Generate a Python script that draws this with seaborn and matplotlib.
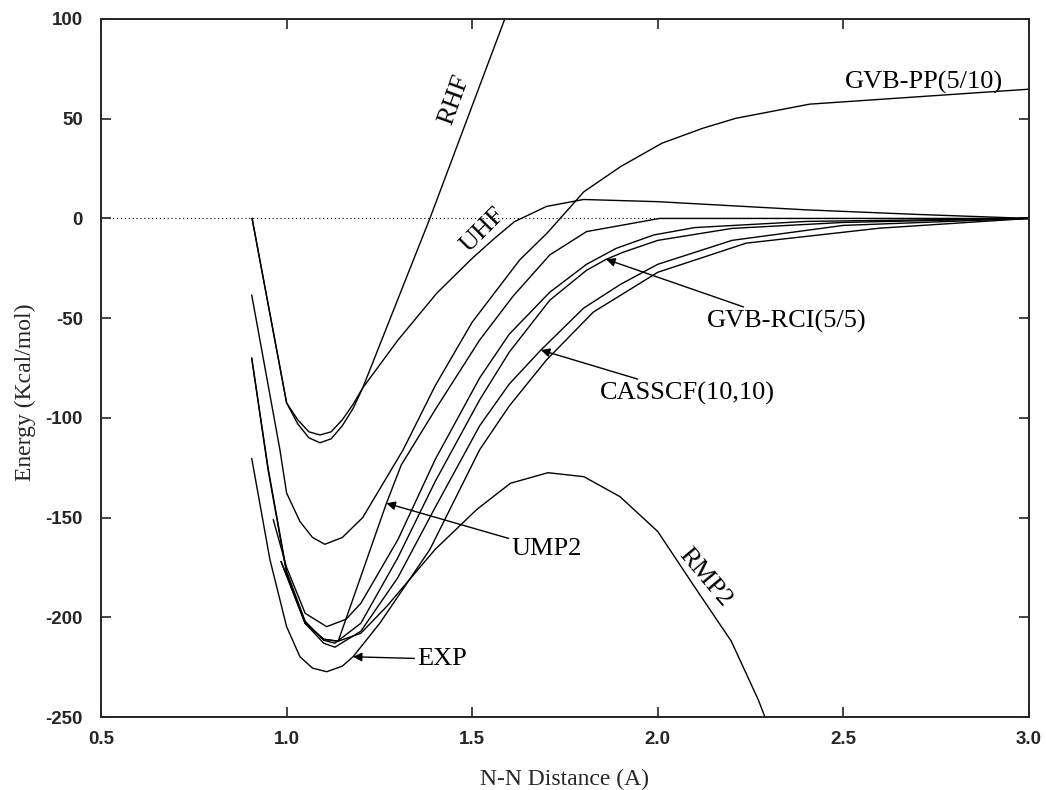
import numpy as np
import pandas as pd
import matplotlib
matplotlib.use("Agg")
import matplotlib.pyplot as plt
import seaborn as sns

# ---- data ----
rhf_x = [0.907, 1.0, 1.03, 1.06, 1.09, 1.12, 1.15, 1.18, 1.205, 1.386, 1.62]
rhf_y = [0.0, -92.5, -103, -110, -112.5, -110.5, -104, -95, -85, 0.0, 116]

uhf_x = [0.907, 1.0, 1.03, 1.06, 1.09, 1.12, 1.15, 1.18, 1.205, 1.30, 1.405, 1.50, 1.56, 1.614, 1.70, 1.80, 2.0, 2.4, 2.7, 3.0]
uhf_y = [0.0, -92.5, -101, -107, -108.6, -107, -101, -93, -85, -61, -37.4, -20, -10, -1.6, 6.0, 9.5, 8.4, 4.3, 2.0, 0.0]

gvbpp_x = [0.906, 0.982, 1.0, 1.036, 1.07, 1.103, 1.15, 1.205, 1.314, 1.4, 1.5, 1.628, 1.702, 1.801, 1.9, 2.011, 2.121, 2.21, 2.409, 3.0]
gvbpp_y = [-38.4, -116, -137.7, -152, -160, -163.4, -160, -150, -116, -84, -52, -20.8, -7.3, 13.4, 26, 37.7, 45.2, 50.2, 57.3, 64.8]

exp_x = [0.906, 0.955, 1.0, 1.036, 1.07, 1.108, 1.15, 1.179, 1.251, 1.386, 1.52, 1.6, 1.7, 1.826, 2.0, 2.238, 2.597, 3.0]
exp_y = [-120.3, -171, -204.7, -219.8, -225.5, -227.3, -224.5, -219.8, -203, -166, -116, -94, -71, -47, -27, -12.4, -4.9, 0.0]

rci_x = [0.906, 0.95, 1.0, 1.05, 1.1, 1.13, 1.2, 1.3, 1.4, 1.52, 1.6, 1.709, 1.808, 1.861, 1.906, 2.0, 2.2, 2.5, 3.0]
rci_y = [-70, -125, -177, -202, -211.5, -213, -203, -170, -132, -91, -67, -41, -26, -20.5, -17, -11, -5, -2, 0.0]

cas_x = [0.906, 0.95, 1.0, 1.05, 1.1, 1.13, 1.2, 1.3, 1.4, 1.52, 1.6, 1.685, 1.8, 1.9, 2.0, 2.2, 2.5, 3.0]
cas_y = [-70, -126, -178, -203, -213, -215, -207, -180, -145, -104, -83, -66, -45, -33, -23, -11, -3.5, 0.0]

mid_x = [0.964, 1.0, 1.05, 1.108, 1.16, 1.2, 1.3, 1.4, 1.52, 1.6, 1.709, 1.808, 1.888, 1.989, 2.099, 2.4, 3.0]
mid_y = [-151, -175, -198, -204.7, -201, -193, -161, -121, -80, -58, -37, -23, -15, -8.3, -4.6, -1.5, 0.0]

ump2_x = [0.985, 1.05, 1.1, 1.139, 1.269, 1.309, 1.4, 1.52, 1.61, 1.709, 1.808, 2.005, 3.0]
ump2_y = [-172, -203, -211, -212, -142.8, -123.6, -96, -61, -39, -18.3, -6.6, 0.0, 0.0]

rmp2_x = [0.985, 1.05, 1.1, 1.139, 1.2, 1.269, 1.4, 1.512, 1.603, 1.704, 1.801, 1.898, 2.0, 2.1, 2.198, 2.271, 2.33]
rmp2_y = [-172, -203, -211, -212, -208, -194.7, -166, -146, -132.8, -127.5, -129.5, -139.5, -157, -185, -212, -241.5, -270]

curves = {
    "RHF": (rhf_x, rhf_y), "UHF": (uhf_x, uhf_y), "GVB-PP(5/10)": (gvbpp_x, gvbpp_y),
    "EXP": (exp_x, exp_y), "GVB-RCI(5/5)": (rci_x, rci_y), "CASSCF(10,10)": (cas_x, cas_y),
    "other": (mid_x, mid_y), "UMP2": (ump2_x, ump2_y), "RMP2": (rmp2_x, rmp2_y),
}

x_ticks = [0.5, 1.0, 1.5, 2.0, 2.5, 3.0]
y_ticks = [100, 50, 0, -50, -100, -150, -200, -250]

rows = []
for name, (xs, ys) in curves.items():
    for i, (xv, yv) in enumerate(zip(xs, ys)):
        rows.append({"method": name, "order": i, "R": xv, "E": yv})
df = pd.DataFrame(rows)

sns.set_style("ticks")
plt.rcParams["font.family"] = ["Liberation Serif", "DejaVu Serif"]

fig = plt.figure(figsize=(10.46, 7.90), dpi=100)
ax = fig.add_axes([101/1046, 1 - 717/790, (1029-101)/1046, (717-19)/790])

sns.lineplot(data=df, x="R", y="E", units="method", estimator=None, sort=False,
             color="black", lw=1.0, ax=ax, legend=False)
ax.axhline(0, color="black", lw=0.8, ls=(0, (1, 2.5)), zorder=0)

ax.set_xlim(0.5, 3.0)
ax.set_ylim(-250, 100)
ax.set_xticks(x_ticks)
ax.set_yticks(y_ticks)
ax.set_xticklabels([f"{v:.1f}" for v in x_ticks])
ax.set_yticklabels([f"{v:d}" for v in y_ticks])
for s in ax.spines.values():
    s.set_visible(True)
    s.set_linewidth(1.4)
ax.tick_params(direction="in", length=7, width=1.2, top=True, right=True)
ax.tick_params(axis="x", pad=10)
ax.tick_params(axis="y", pad=13)
for lab in ax.get_xticklabels() + ax.get_yticklabels():
    lab.set_family(["Liberation Sans", "DejaVu Sans"])
    lab.set_fontsize(13.5)
    lab.set_weight("bold")

ax.set_xlabel("N-N Distance (A)", fontsize=17)
ax.set_ylabel("Energy (Kcal/mol)", fontsize=17)
ax.xaxis.set_label_coords(0.5, -0.075)
ax.yaxis.set_label_coords(-0.07, 0.465)

tf = dict(fontsize=19, color="black")
ax.text(1.453, 59.4, "RHF", rotation=70, ha="center", va="center", **tf)
ax.text(1.528, -5.8, "UHF", rotation=45, ha="center", va="center", **tf)
ax.text(2.505, 68, "GVB-PP(5/10)", ha="left", va="center", **tf)
ax.text(2.126, -180.3, "RMP2", rotation=-50, ha="center", va="center", **tf)

ap = dict(arrowstyle="-|>", color="black", lw=1.0, mutation_scale=13, shrinkA=0, shrinkB=0)
ax.annotate("GVB-RCI(5/5)", xy=(1.861, -20.5), xytext=(2.131, -51.8), ha="left", va="center",
            arrowprops=ap, **tf)
ax.annotate("CASSCF(10,10)", xy=(1.685, -66), xytext=(1.843, -88), ha="left", va="center",
            arrowprops=ap, **tf)
ax.annotate("UMP2", xy=(1.269, -142.8), xytext=(1.607, -166), ha="left", va="center",
            arrowprops=ap, **tf)
ax.annotate("EXP", xy=(1.179, -219.8), xytext=(1.353, -221), ha="left", va="center",
            arrowprops=ap, **tf)

fig.savefig("out.png", dpi=100)
